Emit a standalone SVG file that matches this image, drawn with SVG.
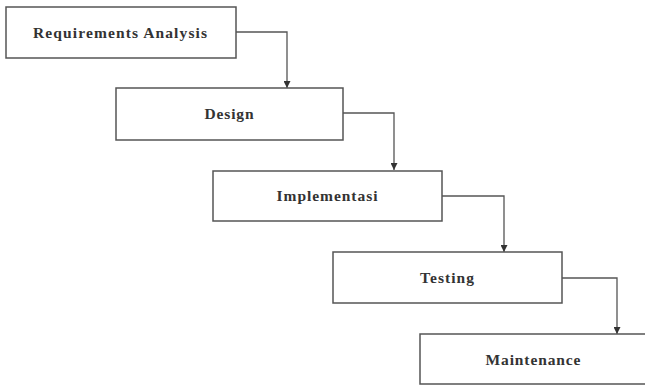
<svg xmlns="http://www.w3.org/2000/svg" width="645" height="388" viewBox="0 0 645 388">
  <defs>
    <style>
      .box { fill: #ffffff; stroke: #555555; stroke-width: 1.5; }
      .label { font-family: "Liberation Serif", "Times New Roman", serif; font-weight: bold; font-size: 15.5px; fill: #333333; text-anchor: middle; }
      .link { fill: none; stroke: #555555; stroke-width: 1.3; marker-end: url(#arrow); }
    </style>
    <marker id="arrow" viewBox="0 0 10 10" refX="10" refY="5" markerWidth="7" markerHeight="7" markerUnits="userSpaceOnUse" orient="auto">
      <path d="M0,0 L10,5 L0,10 Z" fill="#333333"/>
    </marker>
  </defs>
  <rect width="645" height="388" fill="#ffffff"/>

  <!-- connectors between phases -->
  <g id="connectors">
    <path class="link" d="M236,32 H287 V88"/>
    <path class="link" d="M343,113 H394 V170"/>
    <path class="link" d="M442,196 H504 V252"/>
    <path class="link" d="M562,278 H617 V334"/>
  </g>

  <g id="requirements">
    <rect class="box" x="6" y="7" width="230" height="51"/>
    <text class="label" x="120" y="38" textLength="174" lengthAdjust="spacing">Requirements  Analysis</text>
  </g>

  <g id="design">
    <rect class="box" x="116" y="88" width="227" height="52"/>
    <text class="label" x="229" y="119" textLength="49" lengthAdjust="spacing">Design</text>
  </g>

  <g id="implementasi">
    <rect class="box" x="213" y="171" width="229" height="50"/>
    <text class="label" x="327" y="201" textLength="101" lengthAdjust="spacing">Implementasi</text>
  </g>

  <g id="testing">
    <rect class="box" x="333" y="252" width="229" height="51"/>
    <text class="label" x="447" y="283" textLength="54" lengthAdjust="spacing">Testing</text>
  </g>

  <g id="maintenance">
    <rect class="box" x="420" y="334" width="240" height="50"/>
    <text class="label" x="533" y="365" textLength="95" lengthAdjust="spacing">Maintenance</text>
  </g>
</svg>
